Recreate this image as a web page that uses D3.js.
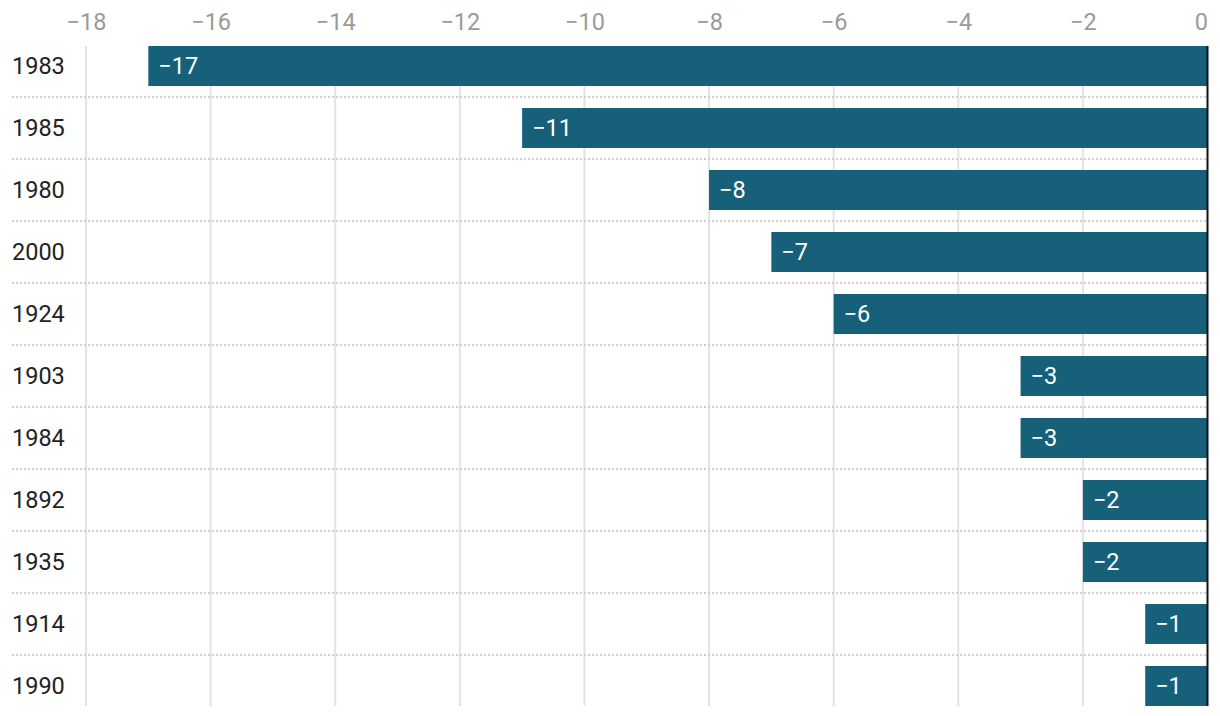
<!DOCTYPE html>
<html><head><meta charset="utf-8">
<script src="https://cdn.jsdelivr.net/npm/d3@7"></script>
<style>body{margin:0;background:#fff;} svg{display:block;font-family:Roboto,sans-serif;}</style>
</head><body>
<svg id="c" width="1220" height="716"></svg>
<script>
const categories = ["1983","1985","1980","2000","1924","1903","1984","1892","1935","1914","1990"];
const values = [-17,-11,-8,-7,-6,-3,-3,-2,-2,-1,-1];
const tickValues = [-18,-16,-14,-12,-10,-8,-6,-4,-2,0];

(function(){
const svg = d3.select("#c");
const x = d3.scaleLinear().domain([-18,0]).range([86,1207.5]);
const y = d3.scaleBand().domain(categories).range([35,717]).paddingInner(22/62).paddingOuter(11/62);
const band = d3.scaleBand().domain(categories).range([35,717]);
const fmt = v => v < 0 ? "\u2212" + Math.abs(v) : String(v);
const fs = 23.5;

const yTop = y(categories[0]), yBot = y(categories[categories.length-1]) + y.bandwidth();

// gridlines
svg.append("g").selectAll("line").data(tickValues.filter(t=>t!==0)).join("line")
  .attr("x1", d=>x(d)).attr("x2", d=>x(d)).attr("y1", yTop).attr("y2", yBot)
  .attr("stroke", "#e3e3e3").attr("stroke-width", 2);

// dotted separators
svg.append("g").selectAll("line").data(categories.slice(1)).join("line")
  .attr("x1", 12).attr("x2", x(0)).attr("y1", d=>band(d)).attr("y2", d=>band(d))
  .attr("stroke", "#cfcfcf").attr("stroke-width", 2).attr("stroke-dasharray", "2,2");

// axis
const axis = svg.append("g").attr("transform", "translate(0,30)")
  .call(d3.axisTop(x).tickValues(tickValues).tickFormat(fmt).tickSize(0).tickPadding(0));
axis.select(".domain").remove();
axis.selectAll("text").attr("fill", "#9a9a9a").attr("font-size", fs).attr("font-family", "Roboto")
  .attr("dy", 0).attr("text-anchor", d => d === 0 ? "end" : "middle");

// bars
svg.append("g").selectAll("rect").data(values).join("rect")
  .attr("x", d=>x(d)).attr("width", d=>x(0)-x(d))
  .attr("y", (d,i)=>y(categories[i])).attr("height", y.bandwidth())
  .attr("fill", "#17607a");

// bar labels
svg.append("g").selectAll("text").data(values).join("text")
  .attr("x", d=>x(d)+10).attr("y", (d,i)=>y(categories[i])+y.bandwidth()/2)
  .attr("dy", "0.35em").attr("fill", "#fff").attr("font-size", fs)
  .text(fmt);

// category labels
svg.append("g").selectAll("text").data(categories).join("text")
  .attr("x", 12).attr("y", d=>y(d)+y.bandwidth()/2).attr("dy","0.35em")
  .attr("fill", "#222").attr("font-size", fs).text(d=>d);

// zero line
svg.append("line").attr("x1", x(0)).attr("x2", x(0)).attr("y1", yTop).attr("y2", yBot)
  .attr("stroke", "#111").attr("stroke-width", 2);
})();
</script>
</body></html>
